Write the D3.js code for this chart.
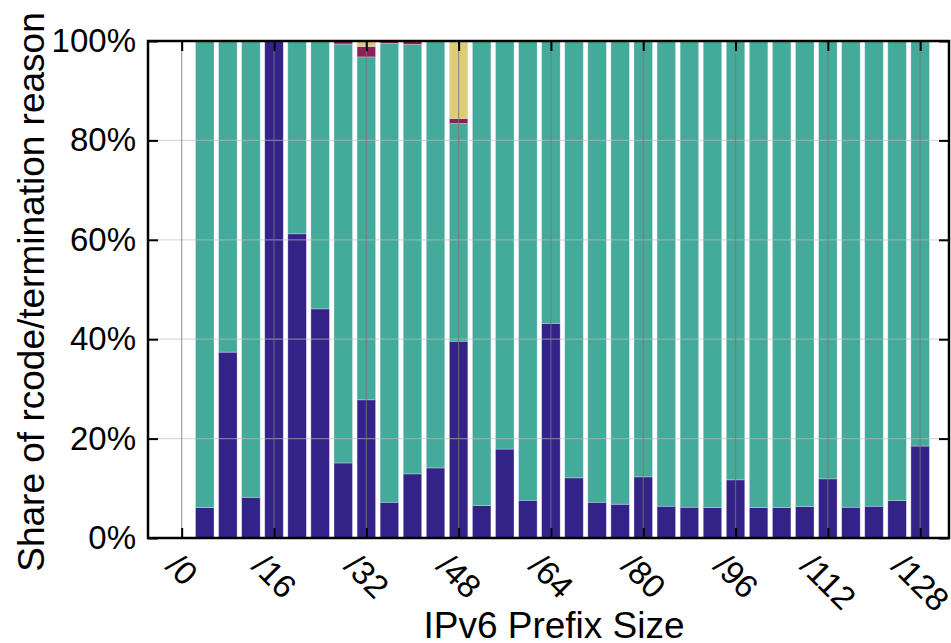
<!DOCTYPE html>
<html>
<head>
<meta charset="utf-8">
<script src="https://cdn.jsdelivr.net/npm/d3@7"></script>
<style>
  body { margin: 0; background: #fff; }
  text { font-family: "Liberation Sans", Arial, sans-serif; }
</style>
</head>
<body>
<div id="my_dataviz"></div>
<script>
// prefix sizes (one bar each)
var prefixes = [4, 8, 12, 16, 20, 24, 28, 32, 36, 40, 44, 48, 52, 56, 60, 64,
                68, 72, 76, 80, 84, 88, 92, 96, 100, 104, 108, 112, 116, 120, 124, 128];
// shares in percent, stacked bottom to top: dark, teal, wine, sand
var shareDark = [6.1, 37.4, 8.2, 100, 61.2, 46.1, 15.1, 27.8, 7.2, 12.9, 14.1, 39.6, 6.5, 17.9, 7.6, 43.2,
                 12.1, 7.2, 6.8, 12.3, 6.4, 6.2, 6.1, 11.7, 6.1, 6.1, 6.3, 11.9, 6.2, 6.4, 7.5, 18.5];
var shareTeal = [93.9, 62.6, 91.8, 0, 38.8, 53.9, 84.3, 69.0, 92.3, 86.4, 85.9, 43.8, 93.5, 82.1, 92.4, 56.8,
                 87.9, 92.8, 93.2, 87.7, 93.6, 93.8, 93.9, 88.3, 93.9, 93.9, 93.7, 88.1, 93.8, 93.6, 92.5, 81.5];
var shareWine = [0, 0, 0, 0, 0, 0, 0.6, 2.1, 0.5, 0.7, 0, 1.0, 0, 0, 0, 0,
                 0, 0, 0, 0, 0, 0, 0, 0, 0, 0, 0, 0, 0, 0, 0, 0];
var shareSand = [0, 0, 0, 0, 0, 0, 0, 1.1, 0, 0, 0, 15.6, 0, 0, 0, 0,
                 0, 0, 0, 0, 0, 0, 0, 0, 0, 0, 0, 0, 0, 0, 0, 0];
var xTicks = [0, 16, 32, 48, 64, 80, 96, 112, 128];
var yTicks = [0, 20, 40, 60, 80, 100];

var keys = ["dark", "teal", "wine", "sand"];
var colors = {dark: "#332288", teal: "#44aa99", wine: "#882255", sand: "#ddcc77"};

// plot box
var box = {left: 148, right: 949, top: 41, bottom: 538};

var svg = d3.select("#my_dataviz")
  .append("svg")
    .attr("width", 951)
    .attr("height", 643);

var x = d3.scaleLinear()
  .domain([-5.84, 133])
  .range([box.left, box.right]);
var y = d3.scaleLinear()
  .domain([0, 100])
  .range([box.bottom, box.top]);

var rows = prefixes.map(function(p, i) {
  return {prefix: p, dark: shareDark[i], teal: shareTeal[i], wine: shareWine[i], sand: shareSand[i]};
});
var stacked = d3.stack().keys(keys)(rows);

var barW = (x(4) - x(0)) * 0.8;

// bars
svg.append("g")
  .selectAll("g")
  .data(stacked)
  .enter().append("g")
    .attr("fill", function(d) { return colors[d.key]; })
  .selectAll("rect")
  .data(function(d) { return d; })
  .enter().append("rect")
    .attr("x", function(d) { return x(d.data.prefix) - barW / 2; })
    .attr("y", function(d) { return y(d[1]); })
    .attr("width", barW)
    .attr("height", function(d) { return Math.max(0, y(d[0]) - y(d[1])); })
    .attr("stroke", "rgba(230,225,245,0.6)")
    .attr("stroke-width", 0.6);

// grid on top of the bars
svg.append("g")
  .selectAll("line")
  .data(yTicks.filter(function(t) { return t > 0 && t < 100; }))
  .enter().append("line")
    .attr("x1", box.left).attr("x2", box.right)
    .attr("y1", function(d) { return y(d); })
    .attr("y2", function(d) { return y(d); })
    .attr("stroke", "rgba(190,190,190,0.55)")
    .attr("stroke-width", 1.2);
svg.append("g")
  .selectAll("line")
  .data(xTicks)
  .enter().append("line")
    .attr("x1", function(d) { return x(d); })
    .attr("x2", function(d) { return x(d); })
    .attr("y1", box.top).attr("y2", box.bottom)
    .attr("stroke", "rgba(120,120,120,0.7)")
    .attr("stroke-width", 1.2);

// axes (ticks point inward)
var yAxis = svg.append("g")
  .attr("transform", "translate(" + box.left + ",0)")
  .call(d3.axisLeft(y).tickValues(yTicks).tickSize(-10).tickPadding(12)
        .tickFormat(function(d) { return d + "%"; }));
yAxis.select(".domain").remove();
yAxis.selectAll("line").attr("stroke", "#000").attr("stroke-width", 2);
yAxis.selectAll("text")
  .style("font-size", "33px")
  .attr("fill", "#000");

var yAxisR = svg.append("g")
  .attr("transform", "translate(" + box.right + ",0)")
  .call(d3.axisRight(y).tickValues(yTicks).tickSize(-10).tickFormat(""));
yAxisR.select(".domain").remove();
yAxisR.selectAll("line").attr("stroke", "#000").attr("stroke-width", 2);

var xAxisT = svg.append("g")
  .attr("transform", "translate(0," + box.top + ")")
  .call(d3.axisTop(x).tickValues(xTicks).tickSize(-10).tickFormat(""));
xAxisT.select(".domain").remove();
xAxisT.selectAll("line").attr("stroke", "#000").attr("stroke-width", 2);

var xAxis = svg.append("g")
  .attr("transform", "translate(0," + box.bottom + ")")
  .call(d3.axisBottom(x).tickValues(xTicks).tickSize(-10)
        .tickFormat(function(d) { return "/" + d; }));
xAxis.select(".domain").remove();
xAxis.selectAll("line").attr("stroke", "#000").attr("stroke-width", 2);
xAxis.selectAll("text")
  .style("font-size", "33px")
  .attr("fill", "#000")
  .attr("text-anchor", "middle")
  .attr("dy", null)
  .attr("dominant-baseline", "central")
  .each(function() {
    var L = this.getComputedTextLength();
    var cy = 22 + L / 2 * 0.707;
    d3.select(this)
      .attr("y", cy)
      .attr("transform", "rotate(45,0," + cy + ")");
  });

// frame
svg.append("rect")
  .attr("x", box.left).attr("y", box.top)
  .attr("width", box.right - box.left).attr("height", box.bottom - box.top)
  .attr("fill", "none")
  .attr("stroke", "#000")
  .attr("stroke-width", 2.5);

// titles
svg.append("text")
  .attr("x", 554)
  .attr("y", 638)
  .attr("text-anchor", "middle")
  .style("font-size", "37px")
  .text("IPv6 Prefix Size");

svg.append("text")
  .attr("transform", "translate(44,292) rotate(-90)")
  .attr("text-anchor", "middle")
  .style("font-size", "37px")
  .text("Share of rcode/termination reason");
</script>
</body>
</html>
